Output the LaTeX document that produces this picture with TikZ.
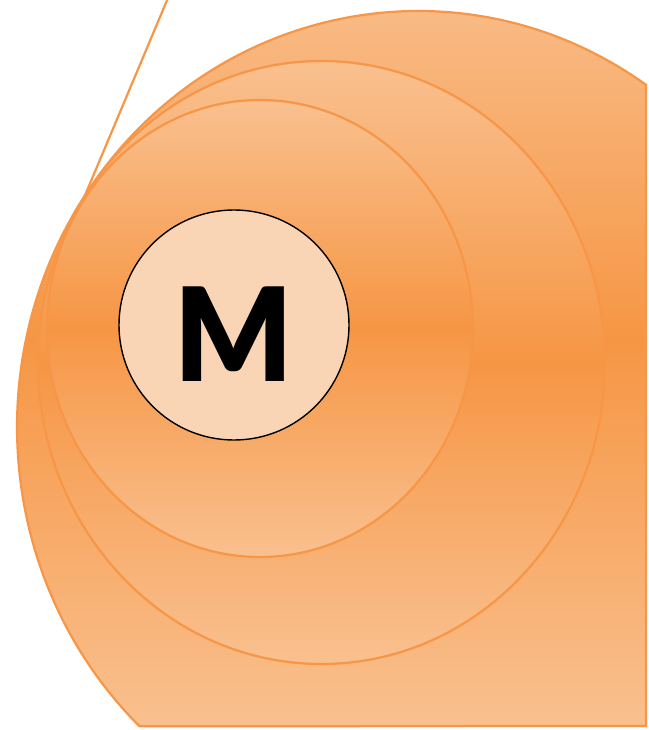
\documentclass[tikz,border=0pt]{standalone}
\usepackage{fontspec}
\newfontfamily\mfont{Lato}[UprightFont=* Black]
\definecolor{oLight}{HTML}{F9C08F}
\definecolor{oDark}{HTML}{F69644}
\definecolor{oStroke}{HTML}{F79646}
\definecolor{mFill}{HTML}{FAD5B5}
\tikzset{
  ring/.style={draw=oStroke, line width=2.2pt, top color=oLight, bottom color=oLight, middle color=oDark},
}
\begin{document}
\begin{tikzpicture}[x=1pt,y=1pt]
\useasboundingbox (0,0) rectangle (648,-730);
\coordinate (lt) at (168,2);
\coordinate (lb) at (78,-212);
\draw[oStroke, line width=2.2pt] (lt) -- (lb);
% outer clipped ellipse
\path[ring] (646,-84.8) arc[start angle=55.35, end angle=226.0, x radius=401, y radius=416] -- (646,-726) -- cycle;
% middle ellipse
\path[ring] (321.5,-362.5) ellipse [x radius=283.5, y radius=301.5];
% inner ellipse
\path[ring] (260,-328.5) ellipse [x radius=213, y radius=228.5];
% M circle
\node[circle, draw=black, line width=1.4pt, fill=mFill, minimum size=230pt, inner sep=0pt] (mc) at (234,-325) {};
\node[inner sep=0pt, xscale=0.95, font=\mfont\fontsize{130}{130}\selectfont] (ml) at (234,-334) {M};
\end{tikzpicture}
\end{document}
